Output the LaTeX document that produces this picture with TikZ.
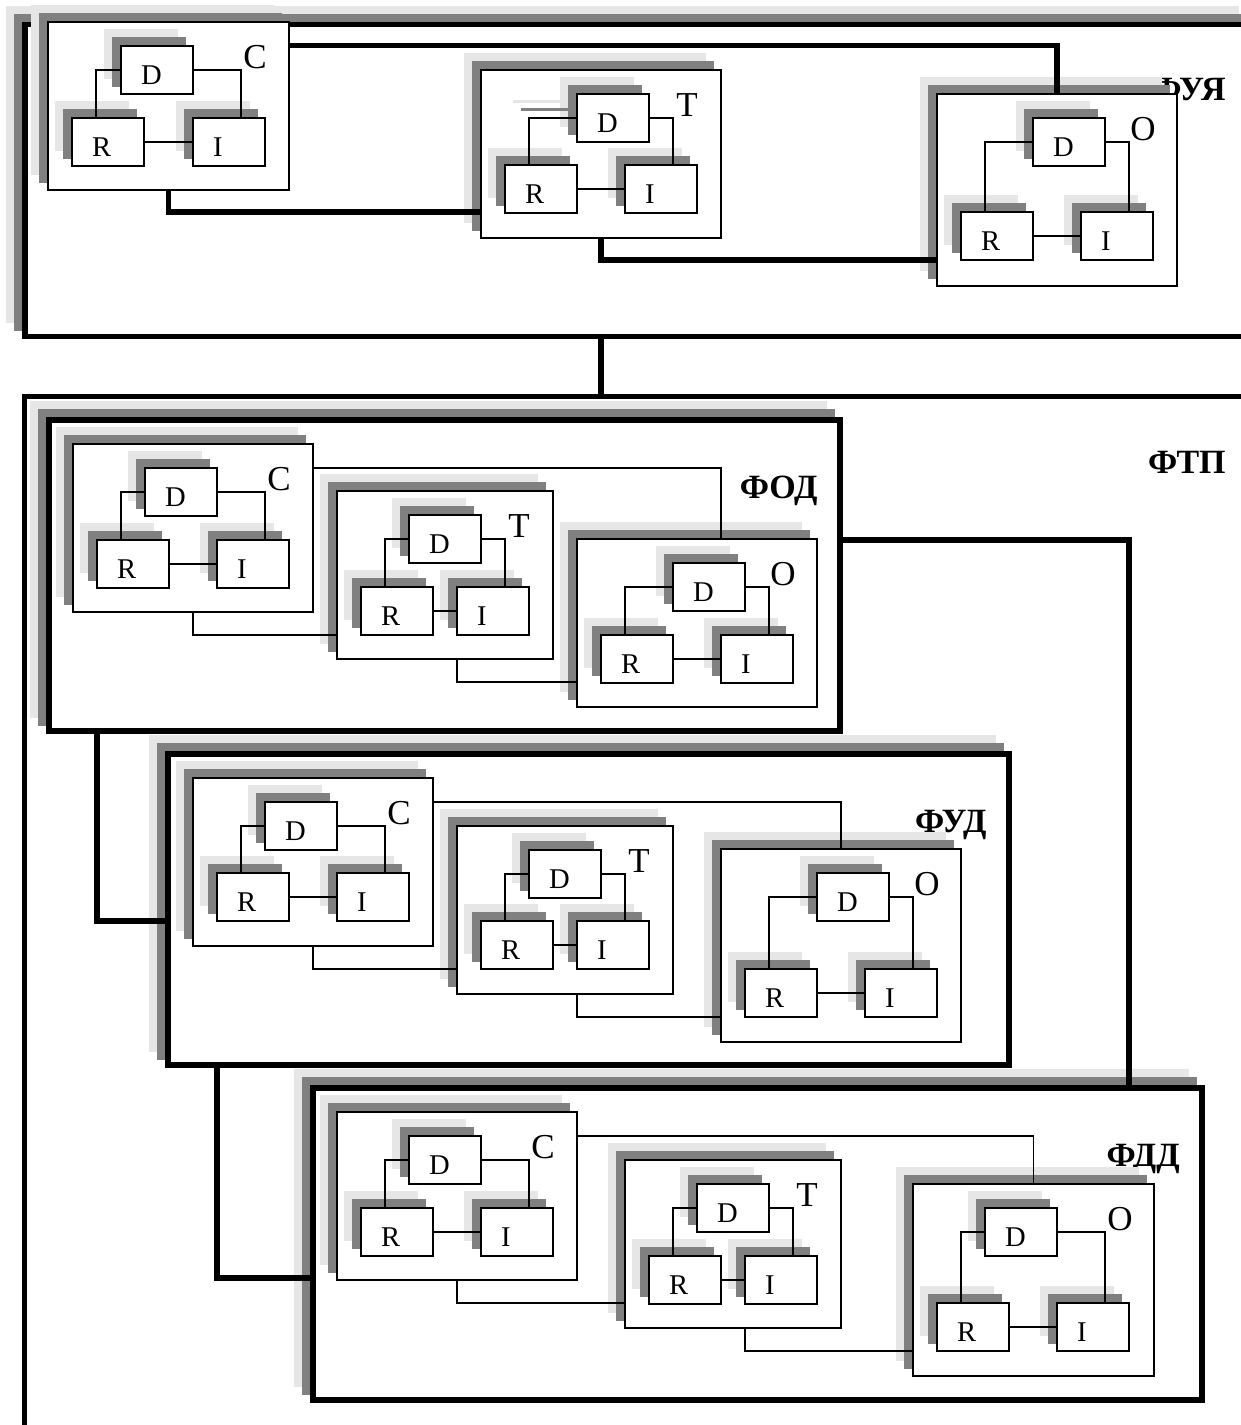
\documentclass[tikz,border=0pt]{standalone}
\usepackage{fontspec}
\setmainfont{Liberation Serif}
\usetikzlibrary{calc}
\definecolor{shdark}{RGB}{128,128,128}
\definecolor{shlight}{RGB}{230,230,230}
\tikzset{
  modfr/.style={draw, fill=white, line width=0.85pt, inner sep=0pt, outer sep=0pt, anchor=north west},
  bigfr/.style={draw, fill=white, line width=2.6pt, inner sep=0pt, outer sep=0pt, anchor=north west},
  smallb/.style={draw, fill=white, line width=1pt, inner xsep=10pt, inner ysep=0pt, outer sep=0pt,
    anchor=north west, minimum width=36pt, minimum height=24pt, text width=16pt, align=left,
    text height=14.5pt, text depth=0pt, font=\fontsize{14.3}{16}\selectfont},
  modlab/.style={inner sep=0pt, font=\fontsize{17.5}{20}\selectfont},
  biglab/.style={inner sep=0pt, anchor=base east, font=\bfseries\fontsize{17}{20}\selectfont},
  thickc/.style={line width=2.6pt},
  thinc/.style={line width=0.75pt},
  innerc/.style={line width=0.7pt}
}
% shadows: x y w h halfline(px)
\newcommand{\shadpair}[5]{%
  \fill[shlight] (#1-16-#5,#2-16-#5) rectangle ++(#3+2*#5,#4+2*#5);
  \fill[shdark] (#1-8-#5,#2-8-#5) rectangle ++(#3+2*#5,#4+2*#5);
}
% module: name x y w h Dx Ry Ix label
\newcommand{\modbox}[9]{%
  \shadpair{#2}{#3}{#4}{#5}{0.9}
  \node[modfr, minimum width=#4*0.5pt, minimum height=#5*0.5pt] (#1) at (#2,#3) {};
  \shadpair{#2+#6}{#3+24}{72}{48}{1}
  \shadpair{#2+24}{#3+#7}{72}{48}{1}
  \shadpair{#2+#8}{#3+#7}{72}{48}{1}
  \node[smallb] (#1D) at (#2+#6,#3+24) {D};
  \node[smallb] (#1R) at (#2+24,#3+#7) {R};
  \node[smallb] (#1I) at (#2+#8,#3+#7) {I};
  \draw[innerc] (#1D.west) -| ($(#1R.north west)+(24,0)$);
  \draw[innerc] (#1D.east) -| ($(#1I.north east)+(-24,0)$);
  \draw[innerc] (#1R.east) -- (#1I.west);
  \node[modlab] (#1L) at (#2+#4-34,#3+35) {#9};
}
% big block: name x y w h label
\newcommand{\bigblk}[6]{%
  \shadpair{#2}{#3}{#4}{#5}{2.6}
  \node[bigfr, minimum width=#4*0.5pt, minimum height=#5*0.5pt] (#1) at (#2,#3) {};
  \node[biglab] (#1L) at (#2+#4-22,#3+78) {#6};
}
\begin{document}
\begin{tikzpicture}[x=0.5pt,y=-0.5pt]
\useasboundingbox (0,0) rectangle (1241,1425);
\clip (0,0) rectangle (1241,1425);

% ---------- top frame ----------
\shadpair{25}{24.5}{1227}{312}{2.8}
\node[bigfr, line width=2.8pt, minimum width=613.5pt, minimum height=156pt] (TF) at (25,24.5) {};
\node[biglab] (TFL) at (1226,100) {ФУЯ};

\modbox{tC}{48}{22}{241}{168}{73}{96}{145}{С}
\modbox{tT}{481}{70}{240}{168}{96}{95}{144}{Т}
\draw[shlight, line width=1.3pt] (513,101.5) -- (568,101.5);
\draw[shdark, line width=1.2pt] (521,109.5) -- (568,109.5);
\modbox{tO}{937}{94}{240}{192}{96}{118}{144}{О}

\draw[thickc] ($(tC.north east)+(0,23.5)$) -| (tO.north);
\draw[thickc] (tC.south) |- ($(tT.south west)+(0,-26)$);
\draw[thickc] ($(tT.south west)+(120,0)$) |- ($(tO.south west)+(0,-26)$);

% ---------- ФТП frame ----------
\node[draw, line width=2.5pt, inner sep=0pt, outer sep=0pt, anchor=north west,
  minimum width=650pt, minimum height=560pt] (FTP) at (24.5,396.5) {};
\draw[thickc] (TF.south -| tT.south) -- (FTP.north -| tT.south);
\node[biglab] (FTPL) at (1226,473) {ФТП};

% ---------- ФОД ----------
\bigblk{FOD}{49}{420}{791}{311}{ФОД}
\modbox{aC}{73}{444}{240}{168}{72}{96}{144}{С}
\modbox{aT}{337}{491}{216}{168}{72}{96}{120}{Т}
\modbox{aO}{577}{539}{240}{168}{96}{96}{144}{О}
\draw[thinc] ($(aC.north east)+(0,24)$) -| ($(aO.north west)+(144,0)$);
\draw[thinc] (aC.south) |- ($(aT.south west)+(0,-24)$);
\draw[thinc] ($(aT.south west)+(120,0)$) |- ($(aO.south west)+(0,-25)$);

% ---------- ФУД ----------
\bigblk{FUD}{168}{754}{841}{311}{ФУД}
\modbox{bC}{193}{778}{240}{168}{72}{95}{144}{С}
\modbox{bT}{457}{826}{216}{168}{72}{95}{120}{Т}
\modbox{bO}{721}{849}{240}{193}{96}{120}{144}{О}
\draw[thinc] ($(bC.north east)+(0,24)$) -| (bO.north);
\draw[thinc] (bC.south) |- ($(bT.south west)+(0,-25)$);
\draw[thinc] ($(bT.south west)+(120,0)$) |- ($(bO.south west)+(0,-25)$);

% ---------- ФДД ----------
\bigblk{FDD}{313}{1088}{889}{312}{ФДД}
\modbox{cC}{337}{1112}{240}{168}{72}{96}{144}{С}
\modbox{cT}{625}{1160}{216}{168}{72}{96}{120}{Т}
\modbox{cO}{913}{1184}{241}{192}{72}{119}{144}{О}
\draw[thinc] ($(cC.north east)+(0,24)$) -| (cO.north);
\draw[thinc] (cC.south) |- ($(cT.south west)+(0,-25)$);
\draw[thinc] ($(cT.south west)+(120,0)$) |- ($(cO.south west)+(0,-25)$);

% ---------- links between blocks ----------
\draw[thickc] ($(FOD.north east)+(0,120)$) -| ($(FDD.north west)+(816,0)$);
\draw[thickc] ($(FOD.south west)+(48,0)$) |- ($(FUD.north west)+(0,167)$);
\draw[thickc] ($(FUD.south west)+(49,0)$) |- ($(FDD.north west)+(0,190)$);
\end{tikzpicture}
\end{document}
